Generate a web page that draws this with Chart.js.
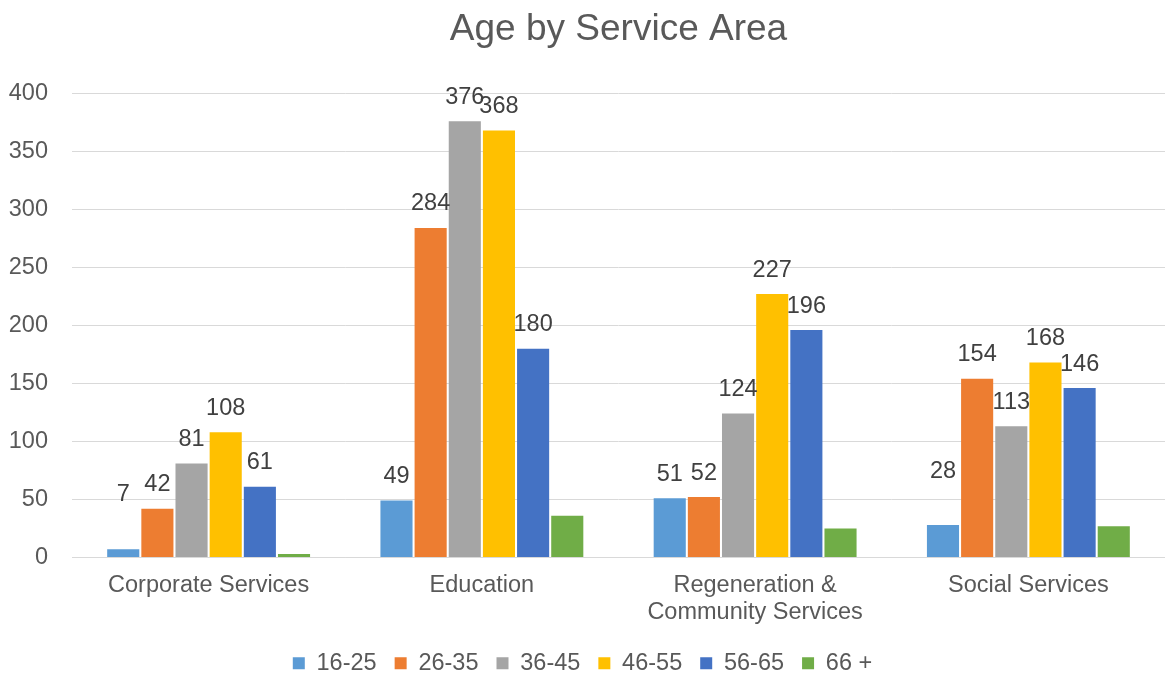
<!DOCTYPE html>
<html>
<head>
<meta charset="utf-8">
<script src="https://cdn.jsdelivr.net/npm/chart.js@4"></script>
<style>
  html, body { margin: 0; padding: 0; background: #fff; }
  #wrap { width: 1165px; height: 675px; }
</style>
</head>
<body>
<div id="wrap"><canvas id="ageChart"></canvas></div>
<script>
  // Categories and series
  const areas = [
    "Corporate Services",
    "Education",
    ["Regeneration &", "Community Services"],
    "Social Services",
  ];
  const ageBands = ["16-25", "26-35", "36-45", "46-55", "56-65", "66 +"];
  const age16to25 = [7, 49, 51, 28];
  const age26to35 = [42, 284, 52, 154];
  const age36to45 = [81, 376, 124, 113];
  const age46to55 = [108, 368, 227, 168];
  const age56to65 = [61, 180, 196, 146];
  const age66plus = [3, 36, 25, 27];
  const yTicks = [0, 50, 100, 150, 200, 250, 300, 350, 400];

  const seriesValues = [age16to25, age26to35, age36to45, age46to55, age56to65, age66plus];
  const seriesColors = ["#5B9BD5", "#ED7D31", "#A5A5A5", "#FFC000", "#4472C4", "#70AD47"];
  const labelled = [true, true, true, true, true, false];

  const font = "Arial, 'Liberation Sans', sans-serif";

  // value labels above each bar; a couple of the short 16-25 labels sit higher
  const barLabels = {
    id: "barLabels",
    afterDatasetsDraw(chart, args, opts) {
      const ctx = chart.ctx;
      ctx.save();
      ctx.font = "23.5px " + font;
      ctx.fillStyle = "#404040";
      ctx.textAlign = "center";
      ctx.textBaseline = "middle";
      chart.data.datasets.forEach((ds, i) => {
        if (!labelled[i]) return;
        chart.getDatasetMeta(i).data.forEach((bar, j) => {
          const lift = opts.lift[i + ":" + j] || 0;
          ctx.fillText(String(ds.data[j]), bar.x, bar.y - 24 - lift);
        });
      });
      ctx.restore();
    },
  };

  new Chart(document.getElementById("ageChart"), {
    type: "bar",
    data: {
      labels: areas,
      datasets: ageBands.map((band, i) => ({
        label: band,
        data: seriesValues[i],
        backgroundColor: seriesColors[i],
        borderWidth: 0,
        barPercentage: 0.94,
        categoryPercentage: 0.75,
      })),
    },
    options: {
      responsive: true,
      maintainAspectRatio: false,
      animation: false,
      layout: { padding: { left: 0, right: 0, top: 0, bottom: -10 } },
      plugins: {
        title: {
          display: true,
          fullSize: false,
          text: "Age by Service Area",
          color: "#595959",
          font: { family: font, size: 37, weight: "normal" },
          padding: { top: 8, bottom: 41 },
        },
        legend: {
          position: "bottom",
          labels: {
            color: "#595959",
            font: { family: font, size: 23.5 },
            boxWidth: 12,
            boxHeight: 12,
            padding: 18,
          },
        },
        tooltip: { enabled: false },
        barLabels: { lift: { "0:0": 31, "0:3": 29 } },
      },
      scales: {
        x: {
          grid: { display: false },
          border: { color: "#D9D9D9", width: 1 },
          ticks: {
            color: "#595959",
            font: { family: font, size: 23.5, lineHeight: 1.15 },
            maxRotation: 0,
            autoSkip: false,
            padding: 7,
          },
        },
        y: {
          min: 0,
          max: 400,
          afterBuildTicks(axis) {
            axis.ticks = yTicks.map((v) => ({ value: v }));
          },
          afterFit(axis) {
            axis.width = 72;
          },
          grid: { color: "#D9D9D9", drawTicks: false },
          border: { display: false },
          ticks: {
            color: "#595959",
            font: { family: font, size: 23.5 },
            padding: 24,
          },
        },
      },
    },
    plugins: [barLabels],
  });
</script>
</body>
</html>
